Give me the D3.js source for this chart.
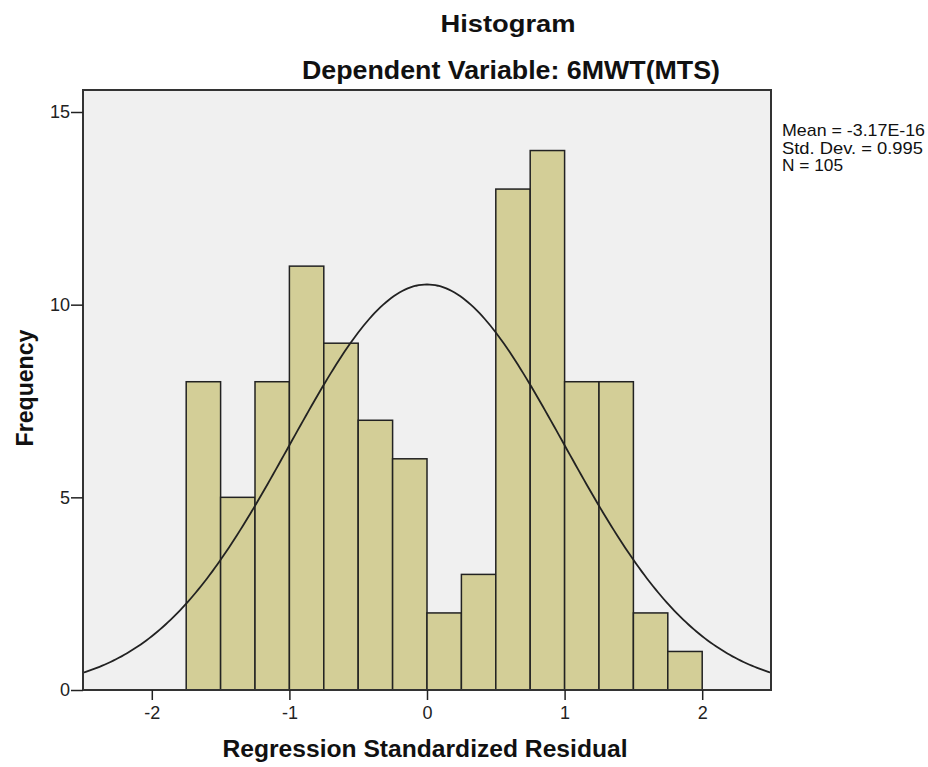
<!DOCTYPE html>
<html><head><meta charset="utf-8">
<script src="https://cdn.jsdelivr.net/npm/d3@7"></script>
<style>body{margin:0;background:#fff;} text{font-family:"Liberation Sans",Arial,sans-serif;}</style>
</head><body><svg id="c" width="928" height="767"></svg>
<script>
const binStarts = [-1.75,-1.5,-1.25,-1,-0.75,-0.5,-0.25,0,0.25,0.5,0.75,1,1.25,1.5,1.75];
const counts    = [8,5,8,11,9,7,6,2,3,13,14,8,8,2,1];
const binWidth = 0.25;
const xTicks = [-2,-1,0,1,2];
const yTicks = [0,5,10,15];
const stats = {mean:-3.17e-16, sd:0.995, n:105};
const statLabels = ["Mean = -3.17E-16","Std. Dev. = 0.995","N = 105"];

const svg = d3.select("#c");
const L=83, R=771, T=90, B=690;
const x = d3.scaleLinear().domain([-2.5,2.5]).range([L,R]);
const y = d3.scaleLinear().domain([0,15]).range([B,112]);

svg.append("rect").attr("x",L).attr("y",T).attr("width",R-L).attr("height",B-T).attr("fill","#f0f0f0");

svg.selectAll("rect.bar").data(binStarts).enter().append("rect").attr("class","bar")
  .attr("x",d=>x(d)).attr("width",d=>x(d+binWidth)-x(d))
  .attr("y",(d,i)=>y(counts[i])).attr("height",(d,i)=>B-y(counts[i]))
  .attr("fill","#d3ce97").attr("stroke","#222").attr("stroke-width",1.5);

const curvePts = d3.range(-2.5,2.5001,0.02).map(v=>[v, stats.n*binWidth/(stats.sd*Math.sqrt(2*Math.PI))*Math.exp(-0.5*((v-stats.mean)/stats.sd)**2)]);
svg.append("path").datum(curvePts).attr("fill","none").attr("stroke","#222").attr("stroke-width",1.8)
  .attr("d",d3.line().x(d=>x(d[0])).y(d=>y(d[1])));

svg.append("rect").attr("x",L).attr("y",T).attr("width",R-L).attr("height",B-T).attr("fill","none").attr("stroke","#333").attr("stroke-width",2);

const xa = svg.append("g").attr("transform",`translate(0,${B})`)
  .call(d3.axisBottom(x).tickValues(xTicks).tickSize(10).tickFormat(d3.format("d")));
xa.select(".domain").remove();
xa.selectAll("line").attr("stroke","#222").attr("stroke-width",1.5);
xa.selectAll("text").attr("font-size",18).attr("fill","#222").attr("y",29).attr("dy",null).text(d=>d<0?"-"+Math.abs(d):d);

const ya = svg.append("g").attr("transform",`translate(${L},0)`)
  .call(d3.axisLeft(y).tickValues(yTicks).tickSize(12).tickFormat(d3.format("d")));
ya.select(".domain").remove();
ya.selectAll("line").attr("stroke","#222").attr("stroke-width",1.5);
ya.selectAll("text").attr("font-size",18).attr("fill","#222").attr("x",-13);

function title(txt, xx, yy, fs, len){
  return svg.append("text").attr("x",xx).attr("y",yy).attr("text-anchor","middle").attr("font-size",fs)
    .attr("font-weight","bold").attr("fill","#111").attr("textLength",len).attr("lengthAdjust","spacingAndGlyphs").text(txt);
}
title("Histogram",508,32,24,135);
title("Dependent Variable: 6MWT(MTS)",511,79,25,418);
title("Regression Standardized Residual",425,757,23,405);
title("Frequency",0,0,23,117).attr("transform","translate(33,388) rotate(-90)");

const statLens = [143,141,61];
svg.selectAll("text.st").data(statLabels).enter().append("text").attr("class","st")
  .attr("x",782).attr("y",(d,i)=>136+i*17.5).attr("font-size",17).attr("fill","#111")
  .attr("textLength",(d,i)=>statLens[i]).attr("lengthAdjust","spacingAndGlyphs").text(d=>d);
</script></body></html>
